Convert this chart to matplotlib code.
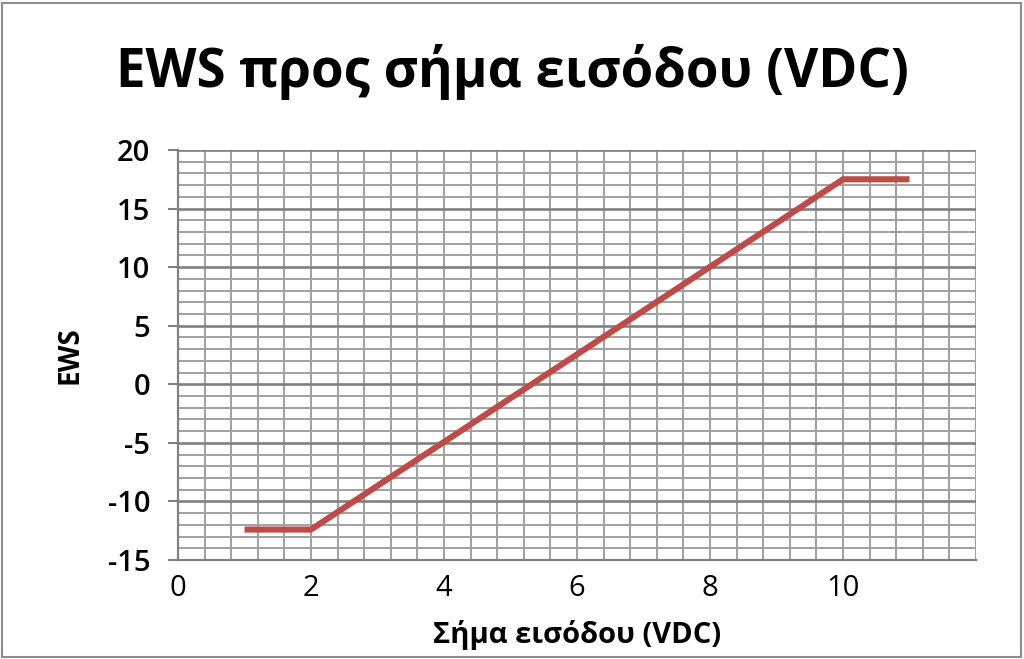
import numpy as np
import matplotlib.pyplot as plt
from matplotlib.ticker import MultipleLocator
from matplotlib.patches import Rectangle

# values
x_vals = [1, 2, 10, 11]
ews_vals = [-12.4, -12.4, 17.5, 17.5]

title = "EWS προς σήμα εισόδου (VDC)"
xlabel = "Σήμα εισόδου (VDC)"
ylabel = "EWS"

plt.rcParams['font.family'] = ['Open Sans', 'DejaVu Sans']
plt.rcParams['axes.unicode_minus'] = False

fig = plt.figure(figsize=(10.24, 6.59), dpi=100)
ax = fig.add_axes([178/1024, 1 - 560/659, (976 - 178)/1024, (560 - 150)/659])

ax.plot(x_vals, ews_vals, color="#be4b48", linewidth=4.4, solid_capstyle="butt", zorder=3)

ax.set_xlim(0, 12)
ax.set_ylim(-15, 20)
ax.xaxis.set_major_locator(MultipleLocator(2))
ax.xaxis.set_minor_locator(MultipleLocator(0.4))
ax.yaxis.set_major_locator(MultipleLocator(5))
ax.yaxis.set_minor_locator(MultipleLocator(1))
ax.set_xticks([0, 2, 4, 6, 8, 10])

ax.grid(which="minor", color="#a0a0a0", linewidth=1.4)
ax.grid(which="major", axis="x", color="#a0a0a0", linewidth=1.4)
ax.grid(which="major", axis="y", color="#808080", linewidth=1.9)
ax.set_axisbelow(True)

for s in ["top", "right"]:
    ax.spines[s].set_visible(False)
ax.spines["left"].set_color("#808080")
ax.spines["left"].set_linewidth(1.6)
ax.spines["bottom"].set_color("#808080")
ax.spines["bottom"].set_linewidth(1.6)

ax.tick_params(which="both", length=0)
ax.tick_params(axis="y", which="major", length=7, color="#808080", width=1.5, pad=13, labelsize=21)
ax.tick_params(axis="x", which="major", pad=10, labelsize=21)
for lbl in ax.get_yticklabels():
    lbl.set_fontweight("semibold")

ax.set_xlabel(xlabel, fontsize=21, fontweight="bold", labelpad=12)
ax.set_ylabel(ylabel, fontsize=20, fontweight="bold", labelpad=17)

fig.text(0.5, 1 - 72/659, title, ha="center", va="center", fontsize=38, fontweight="bold")

fig.patches.append(Rectangle((0.002, 0.003), 0.995, 0.993, transform=fig.transFigure,
                             fill=False, edgecolor="#8c8c8c", linewidth=1.5))

fig.savefig("out.png", dpi=100)
